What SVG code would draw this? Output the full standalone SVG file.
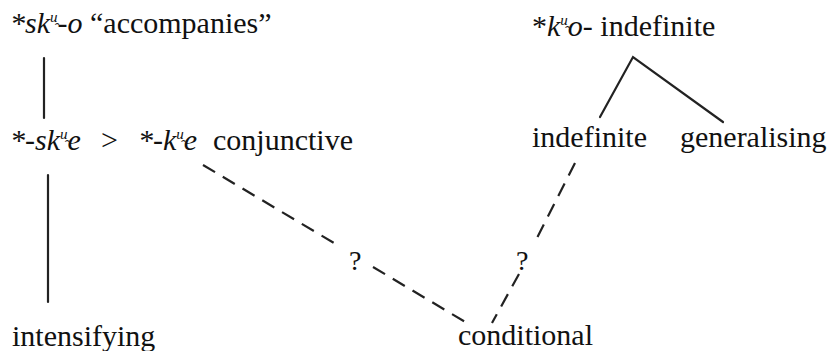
<svg xmlns="http://www.w3.org/2000/svg" width="832" height="351" viewBox="0 0 832 351" font-family="'Liberation Serif', 'DejaVu Serif', 'Times New Roman', serif">
<style>
  text { font-family: 'Liberation Serif', 'DejaVu Serif', 'Times New Roman', serif; font-size: 30px; fill: #111; }
  .it { font-style: italic; }
  .sup { font-size: 15px; font-style: italic; }
  .q { font-size: 28px; }
  .solid { stroke: #222; stroke-width: 2.2; fill: none; stroke-linecap: round; }
  .dash { stroke: #222; stroke-width: 2.2; fill: none; stroke-dasharray: 14 9; }
</style>
<rect width="832" height="351" fill="#fff"/>
<g id="connectors">
  <line class="solid" x1="44" y1="58" x2="44" y2="118"/>
  <line class="solid" x1="48" y1="175" x2="48" y2="302"/>
  <polyline class="solid" points="600,117 633,57 723,122"/>
  <line class="dash" x1="203" y1="165" x2="339" y2="246"/>
  <line class="dash" x1="373" y1="267" x2="467" y2="323"/>
  <line class="dash" x1="575" y1="163" x2="537" y2="238"/>
  <line class="dash" x1="519" y1="274" x2="492" y2="323"/>
  <text class="q" x="349" y="270">?</text>
  <text class="q" x="516" y="270">?</text>
</g>
<g id="n-sko">
  <text x="10" y="33"><tspan class="it">*sk</tspan><tspan class="sup" dy="-11">u̯</tspan><tspan class="it" dy="11">-o</tspan> “accompanies”</text>
</g>
<g id="n-ske">
  <text x="10" y="150"><tspan class="it">*-sk</tspan><tspan class="sup" dy="-11">u̯</tspan><tspan class="it" dy="11">e</tspan></text>
  <text x="101" y="150">&gt;</text>
  <text x="138" y="150"><tspan class="it">*-k</tspan><tspan class="sup" dy="-11">u̯</tspan><tspan class="it" dy="11">e</tspan></text>
  <text x="213" y="150">conjunctive</text>
</g>
<g id="n-intensifying">
  <text x="12" y="346">intensifying</text>
</g>
<g id="n-conditional">
  <text x="458" y="345">conditional</text>
</g>
<g id="n-kwo">
  <text x="532" y="36"><tspan>*</tspan><tspan class="it">k</tspan><tspan class="sup" dy="-11">u̯</tspan><tspan class="it" dy="11">o</tspan>- indefinite</text>
</g>
<g id="n-indefinite">
  <text x="532" y="147">indefinite</text>
</g>
<g id="n-generalising">
  <text x="680" y="147">generalising</text>
</g>
</svg>
